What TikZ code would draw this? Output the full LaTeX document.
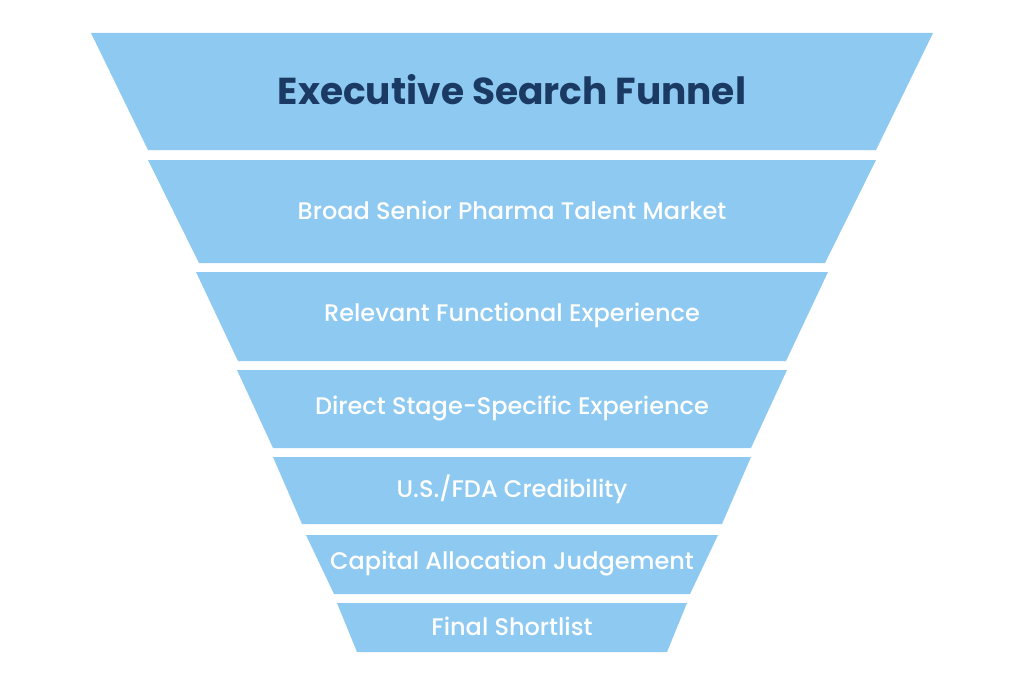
\documentclass[tikz,border=0pt]{standalone}
\usepackage{fontspec}
\setmainfont{Poppins}
\newfontfamily\stagefont{Poppins}[UprightFont=* Medium]
\definecolor{funnelblue}{HTML}{8DC9F0}
\definecolor{titlenavy}{HTML}{1B3A63}
\tikzset{band/.style={fill=funnelblue,draw=none},
  stage/.style={text=white,font=\stagefont\fontsize{24}{26}\selectfont}}

\begin{document}
\begin{tikzpicture}[x=1pt,y=-1pt]
\useasboundingbox(0,0)rectangle(1024,685);
% funnel bands: top y, bottom y, top half width, bottom half width, label
\foreach \yt/\yb/\wt/\wb/\name/\txt in {
  160/263/364/313/market/{Broad Senior Pharma Talent Market},
  272/361/316/274/functional/{Relevant Functional Experience},
  370/448/275/239/stage/{Direct Stage-Specific Experience},
  457/524/239/210/fda/{U.S./FDA Credibility},
  535/594/206/178/capital/{Capital Allocation Judgement},
  603/652/175/155/shortlist/{Final Shortlist}}{
  \fill[band](512-\wt,\yt)--(512+\wt,\yt)--(512+\wb,\yb)--(512-\wb,\yb)--cycle;
  \node[stage](\name)at(512,{(\yt+\yb)/2-1}){\txt};
}
\fill[band](91,33)--(933,33)--(876,150)--(148,150)--cycle;
\node[text=titlenavy,font=\fontsize{37.5}{42}\selectfont\bfseries](title)at(512,90){Executive Search Funnel};
\end{tikzpicture}
\end{document}
